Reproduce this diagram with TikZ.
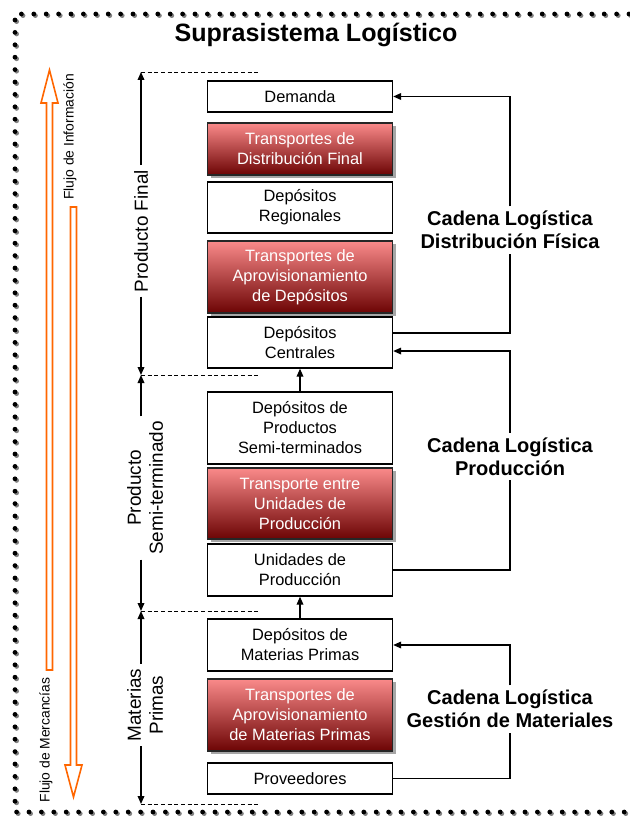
\documentclass[tikz,border=0pt]{standalone}
\usepackage{fontspec}
\setmainfont{Liberation Sans}
\usetikzlibrary{arrows.meta, positioning, shadows}
\definecolor{flujo}{RGB}{255,102,0}
\definecolor{rojoclaro}{RGB}{250,138,138}
\definecolor{rojooscuro}{RGB}{108,4,4}

\begin{document}
\begin{tikzpicture}[x=0.75pt, y=-0.75pt, >={Triangle[length=6pt, width=5pt]},
	caja/.style={draw, line width=1pt, minimum width=138.75pt, align=center, inner sep=2pt, font=\fontsize{12.3}{15}\selectfont},
	trans/.style={caja, draw=black!85, text=white, top color=rojoclaro, bottom color=rojooscuro, drop shadow={shadow xshift=2.5pt, shadow yshift=-2.5pt, fill=gray!70, opacity=1}},
	cadena/.style={align=center, font=\fontsize{15}{17.25}\selectfont\bfseries},
	etapa/.style={rotate=90, align=center, font=\fontsize{14.2}{16.5}\selectfont},
	flujotxt/.style={rotate=90, font=\fontsize{10.4}{12}\selectfont},
	guia/.style={dash pattern=on 3pt off 2pt, line width=0.6pt},
	flecha/.style={draw=flujo, line width=1.2pt, fill=white},
	puntos/.style={line width=3.6pt, line cap=round, dash pattern=on 0pt off 9.3pt}]
			\path[fill=white, use as bounding box] (0,0) rectangle (629,816);
			
			% Dotted frame
			\coordinate (b1) at (629,14);
			\coordinate (b2) at (15,14);
			\coordinate (b3) at (15,812);
			\coordinate (b4) at (629,812);
			\draw[puntos, gray, transform canvas={shift={(1.2pt,-1.2pt)}}] (b1) -- (b2) -- (b3) -- (b4);
			\draw[puntos] (b1) -- (b2) -- (b3) -- (b4);
			
			% Title
			\node[font=\fontsize{18.8}{22}\selectfont\bfseries] (titulo) at (316,35) {Suprasistema Logístico};
			
			% Boxes
			\node[caja, minimum height=23.25pt] (dem) at (300,96.5) {Demanda};
			\node[trans, minimum height=39pt] (tdf) at (300,149) {Transportes de\\Distribución Final};
			\node[caja, minimum height=38.25pt] (dreg) at (300,207.5) {Depósitos\\Regionales};
			\node[trans, minimum height=54pt] (tad) at (300,277) {Transportes de\\Aprovisionamiento\\de Depósitos};
			\node[caja, minimum height=38.25pt] (dcen) at (300,342.5) {Depósitos\\Centrales};
			\node[caja, minimum height=54pt] (dsemi) at (300,428) {Depósitos de\\Productos\\Semi-terminados};
			\node[trans, minimum height=53.25pt] (tuni) at (300,503.5) {Transporte entre\\Unidades de\\Producción};
			\node[caja, minimum height=39pt] (uprod) at (300,570) {Unidades de\\Producción};
			\node[caja, minimum height=39pt] (dmp) at (300,645) {Depósitos de\\Materias Primas};
			\node[trans, minimum height=54pt] (tmp) at (300,715) {Transportes de\\Aprovisionamiento\\de Materias Primas};
			\node[caja, minimum height=23.25pt] (prov) at (300,778.5) {Proveedores};
			
			% Upward links
			\draw[->, line width=1pt] (dsemi) -- (dcen);
			\draw[->, line width=1pt] (dmp) -- (uprod);
			
			% Chains on the right
			\node[cadena] (cad1) at (510,230) {Cadena Logística\\Distribución Física};
			\node[cadena] (cad2) at (510,456.5) {Cadena Logística\\Producción};
			\node[cadena] (cad3) at (510,709) {Cadena Logística\\Gestión de Materiales};
			\draw[line width=1pt] ([yshift=7.1pt]dcen.east) -| (cad1);
			\draw[->, line width=1pt] (cad1) |- (dem);
			\draw[line width=1pt] (uprod) -| (cad2);
			\draw[->, line width=1pt] (cad2) |- ([yshift=-6.4pt]dcen.east);
			\draw[line width=1pt] (prov) -| (cad3);
			\draw[->, line width=1pt] (cad3) |- (dmp);
			
			% Stages on the left
			\coordinate (g1) at (141,72);
			\coordinate (g2) at (141,375);
			\coordinate (g3) at (141,611);
			\coordinate (g4) at (141,804);
			\coordinate (g1e) at (258,72);
			\coordinate (g2e) at (258,375);
			\coordinate (g3e) at (258,611);
			\coordinate (g4e) at (258,804);
			\draw[guia] (g1) -- (g1e);
			\draw[guia] (g2) -- (g2e);
			\draw[guia] (g3) -- (g3e);
			\draw[guia] (g4) -- (g4e);
			
			\node[etapa] (pfin) at (141,231) {Producto Final};
			\node[etapa] (psemi) at (145,488) {Producto\\Semi-terminado};
			\node[etapa] (mprim) at (145,705) {Materias\\Primas};
			\draw[->, line width=1pt] (pfin) -- (g1);
			\draw[->, line width=1pt] (pfin) -- (g2);
			\draw[->, line width=1pt] (psemi.east -| g2) -- (g2);
			\draw[->, line width=1pt] (psemi.west -| g3) -- (g3);
			\draw[->, line width=1pt] (mprim.east -| g3) -- (g3);
			\draw[->, line width=1pt] (mprim.west -| g4) -- (g4);
			
			% Flows
			\draw[flecha] (46.5,670) -- (46.5,103) -- (41,103) -- (49.5,70) -- (58,103) -- (52.5,103) -- (52.5,670) -- cycle;
			\draw[flecha] (70.5,207) -- (70.5,765) -- (65,765) -- (73.5,797) -- (82,765) -- (76.5,765) -- (76.5,207) -- cycle;
			\node[flujotxt] (finfo) at (70,137) {Flujo de Información};
			\node[flujotxt] (fmerc) at (46,740) {Flujo de Mercancías};
		\end{tikzpicture}
\end{document}
